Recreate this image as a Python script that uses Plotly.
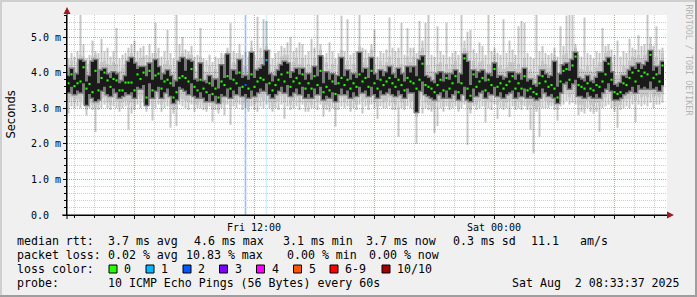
import plotly.graph_objects as go
import pandas as pd

# ---------------- data (ms), one value per 9-minute column ----------------
median_ms = [
    3.70,3.95,3.62,3.70,3.75,4.15,3.55,3.68,3.45,4.05, 3.50,3.85,4.00,3.78,3.60,3.82,3.78,3.50,3.50,3.72,
    3.72,3.72,3.50,3.95,3.82,4.00,3.30,4.05,3.50,3.92, 3.97,3.55,3.75,3.80,3.70,3.30,3.45,3.85,3.90,3.85,
    3.75,4.10,3.60,3.50,3.80,3.55,3.45,3.70,3.40,3.55, 3.30,3.75,3.65,3.90,3.55,3.80,3.70,4.00,3.60,3.65,
    3.55,3.95,3.60,3.75,3.85,3.80,4.35,3.70,3.50,3.65, 3.80,3.95,3.75,4.00,3.60,3.75,3.85,3.70,3.95,3.55,
    3.70,3.55,3.90,3.65,4.05,3.45,3.60,3.50,3.75,3.40, 3.70,3.85,3.65,3.80,3.55,3.70,3.60,3.95,3.75,3.85,
    3.60,4.05,3.70,3.55,3.80,3.65,3.75,3.85,3.70,3.60, 3.80,3.65,3.50,3.85,3.75,3.70,3.55,3.80,4.25,3.65,
    3.60,3.55,3.45,3.65,3.80,3.50,3.85,3.55,3.70,3.90, 3.45,3.70,4.40,3.55,3.35,3.95,3.60,3.75,3.85,3.50,
    3.80,3.65,4.10,3.60,3.70,3.55,3.65,3.75,3.90,3.55, 3.70,3.55,3.90,3.50,3.55,3.45,3.40,3.70,3.90,3.75,
    3.60,3.65,3.55,3.30,3.75,4.05,4.10,3.80,4.20,4.45, 3.65,3.60,3.55,3.70,3.55,3.50,3.65,3.60,3.75,3.95,
    4.25,3.80,3.45,3.40,3.45,3.70,3.65,3.85,4.00,3.75, 4.05,3.90,4.00,3.95,4.50,3.85,3.95,3.75,4.20,
]
dark_lo = [
    3.45,3.60,3.40,3.50,3.45,3.70,3.10,3.40,3.30,3.20, 3.25,3.50,3.60,3.40,3.35,3.55,3.45,3.30,3.35,3.45,
    3.40,3.45,3.30,3.60,3.55,3.65,3.10,3.70,3.30,3.50, 3.60,3.30,3.45,3.55,3.35,3.15,3.25,3.60,3.55,3.50,
    3.40,3.70,3.35,3.30,3.45,3.30,3.20,3.40,3.20,3.35, 3.15,3.40,3.35,3.55,3.30,3.50,3.40,3.60,3.35,3.40,
    3.30,3.50,3.35,3.45,3.55,3.50,3.70,3.40,3.30,3.40, 3.50,3.60,3.45,3.65,3.35,3.45,3.55,3.40,3.60,3.30,
    3.40,3.30,3.55,3.40,3.60,3.25,3.35,3.30,3.45,3.20, 3.40,3.55,3.40,3.50,3.30,3.45,3.35,3.60,3.45,3.50,
    3.35,3.60,3.40,3.30,3.50,3.40,3.45,3.55,3.40,3.35, 3.50,3.40,3.30,3.55,3.45,3.45,2.90,3.50,3.75,3.40,
    3.35,3.30,3.25,3.40,3.45,3.30,3.50,3.30,3.40,3.50, 3.25,3.40,3.60,3.25,3.20,3.55,3.35,3.45,3.50,3.30,
    3.45,3.40,3.60,3.35,3.45,3.30,3.40,3.45,3.50,3.30, 3.45,3.35,3.55,3.30,3.35,3.30,3.25,3.30,3.55,3.45,
    3.35,3.40,3.30,3.15,3.45,3.70,3.75,3.55,3.70,3.80, 3.35,3.35,3.30,3.45,3.35,3.30,3.40,3.30,3.45,3.55,
    3.70,3.50,3.25,3.25,3.30,3.40,3.45,3.50,3.60,3.45, 3.65,3.55,3.60,3.55,3.75,3.55,3.60,3.50,3.65,
]
dark_hi = [
    3.90,4.10,3.80,3.95,4.35,4.30,3.75,3.90,4.30,4.35, 3.70,4.05,4.10,3.95,3.85,4.00,3.95,3.70,3.75,3.90,
    4.30,4.40,4.25,4.10,4.15,4.15,3.90,4.25,3.80,4.35, 4.15,3.80,3.95,4.05,3.90,3.60,3.75,4.30,4.40,4.05,
    4.35,4.30,3.80,3.75,4.25,3.75,3.70,3.90,3.60,3.80, 3.55,4.20,3.85,4.50,3.80,4.05,3.95,4.35,3.85,3.90,
    3.80,4.55,3.85,4.05,4.10,4.20,4.60,3.95,3.75,3.90, 4.05,4.20,4.30,4.25,3.85,4.00,4.10,3.95,4.10,3.80,
    3.95,3.80,4.15,3.90,4.45,3.70,4.00,3.80,3.95,3.65, 3.90,4.40,3.90,4.05,3.80,3.95,3.85,4.55,4.00,4.10,
    3.85,4.40,3.95,3.80,4.05,3.90,4.00,4.15,3.95,3.85, 4.10,3.95,3.75,4.15,4.00,4.15,3.90,4.35,4.45,3.90,
    3.85,3.75,3.70,3.95,4.00,3.75,3.95,3.80,3.95,4.05, 3.70,3.95,4.50,4.30,3.65,4.05,3.85,4.00,4.05,3.75,
    3.95,3.90,4.25,3.85,3.90,3.80,3.85,4.00,4.00,3.80, 3.95,3.80,4.10,3.75,3.80,3.65,3.60,3.90,4.05,3.95,
    3.85,3.90,4.30,3.60,3.95,4.20,4.25,4.05,4.35,4.55, 3.85,3.80,3.75,3.90,3.75,3.70,3.85,4.00,4.00,4.30,
    4.40,4.00,3.65,3.60,3.70,3.90,3.85,4.05,4.15,4.10, 4.25,4.10,4.20,4.30,4.60,4.05,4.15,3.95,4.30,
]
core_lo = [
    3.15,3.30,3.15,3.25,3.20,3.35,2.95,3.15,3.10,3.00, 3.10,3.25,3.30,3.15,3.10,3.30,3.20,3.05,3.15,3.20,
    3.10,3.15,3.05,3.35,3.25,3.35,3.00,3.40,3.05,3.25, 3.30,3.10,3.20,3.25,3.05,2.95,3.00,3.30,3.25,3.20,
    3.15,3.35,3.10,3.10,3.20,3.10,3.00,3.20,2.95,3.10, 2.95,3.15,3.10,3.30,3.05,3.25,3.15,3.30,3.10,3.15,
    3.05,3.25,3.10,3.15,3.30,3.20,3.40,3.15,3.05,3.15, 3.20,3.35,3.15,3.35,3.10,3.20,3.30,3.15,3.35,3.05,
    3.15,3.10,3.25,3.15,3.35,3.00,3.10,3.05,3.20,2.95, 3.15,3.30,3.15,3.25,3.05,3.20,3.10,3.35,3.20,3.25,
    3.10,3.35,3.15,3.05,3.25,3.15,3.20,3.30,3.15,3.10, 3.25,3.15,3.05,3.30,3.20,3.20,2.75,3.25,3.45,3.15,
    3.10,3.05,3.00,3.15,3.20,3.05,3.25,3.05,3.15,3.25, 3.00,3.15,3.35,3.00,2.95,3.30,3.10,3.20,3.25,3.05,
    3.20,3.15,3.35,3.10,3.20,3.05,3.15,3.20,3.25,3.05, 3.20,3.10,3.30,3.05,3.10,3.05,3.00,3.05,3.30,3.20,
    3.10,3.15,3.10,2.95,3.20,3.40,3.45,3.30,3.40,3.45, 3.10,3.10,3.05,3.20,3.10,3.05,3.15,3.05,3.20,3.30,
    3.40,3.25,3.05,3.05,3.10,3.20,3.25,3.25,3.35,3.20, 3.40,3.30,3.35,3.30,3.45,3.30,3.35,3.30,3.40,
]
core_hi = [
    4.20,4.35,4.15,4.30,4.50,4.45,4.10,4.25,4.45,4.50, 4.15,4.30,4.35,4.25,4.20,4.30,4.25,4.05,4.15,4.25,
    4.45,4.55,4.40,4.35,4.40,4.45,4.20,4.45,4.10,4.55, 4.40,4.15,4.25,4.35,4.20,4.00,4.15,4.45,4.55,4.35,
    4.50,4.50,4.10,4.05,4.45,4.05,4.00,4.20,3.95,4.10, 3.90,4.40,4.15,4.60,4.15,4.30,4.25,4.55,4.15,4.20,
    4.10,4.70,4.15,4.35,4.40,4.45,4.75,4.25,4.05,4.20, 4.30,4.45,4.50,4.50,4.15,4.30,4.40,4.25,4.40,4.10,
    4.25,4.15,4.40,4.20,4.65,4.00,4.30,4.10,4.25,3.95, 4.20,4.65,4.20,4.35,4.10,4.25,4.15,4.75,4.30,4.40,
    4.15,4.65,4.25,4.10,4.35,4.20,4.30,4.45,4.25,4.15, 4.40,4.25,4.05,4.45,4.30,4.45,4.20,4.60,4.70,4.20,
    4.20,4.05,4.00,4.25,4.30,4.05,4.25,4.10,4.25,4.35, 4.00,4.25,4.70,4.60,4.00,4.35,4.15,4.30,4.35,4.05,
    4.25,4.20,4.50,4.15,4.20,4.10,4.15,4.30,4.30,4.10, 4.25,4.10,4.40,4.05,4.10,3.95,3.90,4.20,4.35,4.25,
    4.15,4.20,4.50,3.95,4.25,4.50,4.55,4.40,4.60,4.70, 4.15,4.10,4.05,4.20,4.05,4.00,4.15,4.30,4.30,4.55,
    4.60,4.30,3.95,3.95,4.00,4.20,4.15,4.35,4.45,4.40, 4.50,4.40,4.50,4.55,4.80,4.35,4.45,4.25,4.55,
]
smoke_lo = [
    2.85,3.05,3.00,3.05,3.00,3.10,2.80,3.00,2.95,2.33, 2.95,3.00,3.10,3.00,2.95,3.05,3.00,2.90,3.00,3.05,
    2.40,2.85,2.95,3.10,3.00,3.15,2.90,3.10,2.65,3.00, 3.10,2.90,3.00,3.05,2.45,2.85,2.50,3.10,3.05,3.00,
    2.95,3.10,2.90,3.00,3.00,2.95,2.90,3.05,2.62,2.95, 2.85,3.00,2.80,3.10,2.53,3.05,3.00,3.10,2.95,3.00,
    2.90,3.05,2.95,2.90,3.05,3.00,3.10,3.00,2.90,3.00, 2.95,3.10,2.70,3.05,2.95,3.00,3.05,2.95,3.10,2.90,
    2.90,3.00,3.00,2.95,3.10,2.76,2.95,2.90,3.00,2.48, 2.95,3.05,3.00,3.05,2.90,3.00,2.95,3.10,2.85,3.05,
    2.95,3.10,3.00,2.70,3.05,3.00,3.00,3.05,2.95,2.95, 2.20,3.00,2.95,3.05,3.00,2.95,2.00,3.05,2.85,3.00,
    2.95,2.90,2.30,2.50,3.00,2.90,3.05,2.95,3.00,3.05, 2.90,3.00,3.10,1.97,2.85,3.05,2.95,3.00,3.05,2.60,
    3.00,2.95,3.10,2.70,3.00,2.95,3.00,2.75,3.05,2.95, 3.00,2.95,3.05,2.95,2.40,1.73,2.90,2.20,3.00,3.00,
    3.00,3.05,2.95,2.65,3.05,3.10,3.20,3.10,3.15,3.10, 2.80,2.90,2.85,3.00,2.90,2.85,2.90,2.34,3.00,3.05,
    3.10,3.00,2.90,2.45,2.95,3.00,3.05,3.00,3.10,2.60, 3.10,3.05,3.10,3.05,3.15,3.00,3.10,3.10,3.15,
]
smoke_hi = [
    4.40,4.55,4.45,4.60,5.62,4.80,4.40,4.50,4.90,4.60, 4.55,4.95,4.60,4.70,4.45,4.60,5.25,4.40,4.50,4.55,
    4.70,4.80,4.90,4.60,4.70,4.75,4.50,4.80,4.55,5.40, 4.70,4.45,4.60,5.20,4.55,4.40,5.62,4.80,5.00,4.65,
    4.60,4.75,4.45,4.50,5.25,4.40,4.35,4.50,4.30,4.45, 4.40,4.55,4.50,4.70,5.39,4.60,4.55,4.80,4.50,4.60,
    4.45,4.90,4.50,5.57,4.70,5.50,5.45,4.65,4.40,4.55, 4.60,4.75,4.70,4.85,5.00,4.60,4.70,4.85,4.80,4.50,
    4.60,4.95,4.70,5.62,4.80,4.45,4.55,4.85,4.60,4.40, 4.55,5.60,4.60,5.50,4.50,4.55,4.60,5.62,4.70,4.65,
    4.55,4.80,5.20,4.45,4.60,4.55,4.65,5.55,4.70,4.60, 4.70,5.40,4.50,5.25,4.70,4.70,4.55,5.45,4.90,5.40,
    5.62,4.50,4.45,5.30,4.60,4.50,5.40,4.45,4.55,4.60, 4.50,5.62,4.90,5.15,5.20,4.65,4.55,4.85,4.75,4.50,
    5.62,4.60,4.70,4.55,4.50,5.50,4.55,4.90,4.65,4.50, 5.30,5.45,5.40,4.55,4.45,4.40,5.62,4.60,4.75,4.55,
    4.50,4.55,4.70,4.45,5.30,4.75,5.60,5.62,5.62,4.80, 4.50,4.45,5.55,4.55,4.50,4.40,4.60,4.55,5.25,4.75,
    4.80,4.65,4.50,4.90,4.45,4.60,4.55,4.95,4.70,4.65, 5.05,4.75,4.80,5.62,5.00,4.75,5.30,4.65,4.70,
]
loss_columns = [59, 66]
loss_counts = [2, 1]

loss_labels = ["0", "1", "2", "3", "4", "5", "6-9", "10/10"]
loss_colors = ["#26ff00", "#00b8ff", "#0059ff", "#7e00ff", "#ff00ff", "#ff5500", "#ff0000", "#a10000"]
y_tick_vals = [0, 1, 2, 3, 4, 5]
y_tick_text = ["0.0\u00a0\u00a0", "1.0 m", "2.0 m", "3.0 m", "4.0 m", "5.0 m"]
x_tick_vals = ["2025-08-01 06:00", "2025-08-01 12:00", "2025-08-01 18:00", "2025-08-02 00:00", "2025-08-02 06:00"]
x_tick_text = ["", "Fri 12:00", "", "Sat 00:00", ""]

n = len(median_ms)
assert all(len(a) == n for a in (dark_lo, dark_hi, core_lo, core_hi, smoke_lo, smoke_hi))

t0 = pd.Timestamp("2025-08-01 02:39:00")
step = pd.Timedelta(minutes=9)
edges = [t0 + i * step for i in range(n + 1)]
centers = [t0 + i * step + step / 2 for i in range(n)]


def stepped(v):
    return list(v) + [v[-1]]


MONO = "DejaVu Sans Mono"
LIGHT = "rgba(0,0,0,0.22)"
fig = go.Figure()

# outer ping spikes (beyond the core band)
sx, sy = [], []
for i in range(n):
    sx += [centers[i], centers[i], None, centers[i], centers[i], None]
    sy += [smoke_lo[i], core_lo[i], None, core_hi[i], smoke_hi[i], None]
fig.add_trace(go.Scatter(x=sx, y=sy, mode="lines", line=dict(width=2, color=LIGHT),
                         connectgaps=False, hoverinfo="skip", showlegend=False))

# light core smoke
fig.add_trace(go.Scatter(x=edges, y=stepped(core_lo), mode="lines",
                         line=dict(width=0, shape="hv"), hoverinfo="skip", showlegend=False))
fig.add_trace(go.Scatter(x=edges, y=stepped(core_hi), mode="lines",
                         line=dict(width=0, shape="hv"), fill="tonexty",
                         fillcolor=LIGHT, hoverinfo="skip", showlegend=False))

# grey fringe around the dark band
fig.add_trace(go.Scatter(x=edges, y=stepped(dark_lo), mode="lines",
                         line=dict(width=3, shape="hv", color="#7a7a7a"),
                         hoverinfo="skip", showlegend=False))
fig.add_trace(go.Scatter(x=edges, y=stepped(dark_hi), mode="lines",
                         line=dict(width=3, shape="hv", color="#7a7a7a"), fill="tonexty",
                         fillcolor="#7a7a7a", hoverinfo="skip", showlegend=False))
# dark smoke near the median
fig.add_trace(go.Scatter(x=edges, y=stepped(dark_lo), mode="lines",
                         line=dict(width=0, shape="hv"), hoverinfo="skip", showlegend=False))
fig.add_trace(go.Scatter(x=edges, y=stepped(dark_hi), mode="lines",
                         line=dict(width=0, shape="hv"), fill="tonexty",
                         fillcolor="#1a1a1a", hoverinfo="skip", showlegend=False))

# median coloured by loss
med_colors = [loss_colors[0]] * n
for c, k in zip(loss_columns, loss_counts):
    med_colors[c] = loss_colors[k]
fig.add_trace(go.Scatter(x=centers, y=median_ms, mode="markers",
                         marker=dict(symbol="square", size=2.1, color=med_colors, line=dict(width=0)),
                         hoverinfo="skip", showlegend=False))

# loss background lines
alpha = {1: 0.18, 2: 0.4}
for c, k in zip(loss_columns, loss_counts):
    col = loss_colors[k].lstrip("#")
    r, g, b = int(col[0:2], 16), int(col[2:4], 16), int(col[4:6], 16)
    fig.add_shape(type="line", xref="x", yref="paper", x0=centers[c], x1=centers[c], y0=0, y1=1,
                  line=dict(color=f"rgba({r},{g},{b},{alpha.get(k, 0.4)})", width=1.6), layer="below")

# ---------------- layout ----------------
L, R, T, B = 67, 667, 15, 215


def fx(p):
    return (p - L) / (R - L)


def fy(p):
    return (B - p) / (B - T)


fig.update_layout(
    width=697, height=297,
    margin=dict(l=L, r=697 - R, t=T, b=297 - B, pad=0),
    paper_bgcolor="#f0f0f0", plot_bgcolor="#ffffff",
    showlegend=False,
    xaxis=dict(
        type="date",
        range=["2025-08-01 02:39:00", "2025-08-02 08:39:00"],
        tickmode="array", tickvals=x_tick_vals, ticktext=x_tick_text,
        tickfont=dict(family=MONO, size=10, color="#000"),
        ticks="outside", ticklen=3, tickcolor="#000",
        showgrid=True, gridcolor="#e59a9a", griddash="1px,1px", gridwidth=1,
        minor=dict(dtick=3600000, tick0="2025-08-01 00:00", showgrid=True,
                   gridcolor="#cfcfcf", griddash="1px,1px", ticks="outside", ticklen=2, tickcolor="#000"),
        showline=True, linecolor="#000", linewidth=1, zeroline=False, fixedrange=True,
    ),
    yaxis=dict(
        range=[0, 200 / 35.6],
        tickmode="array", tickvals=y_tick_vals, ticktext=y_tick_text,
        tickfont=dict(family=MONO, size=10, color="#000"),
        ticks="outside", ticklen=3, tickcolor="#000",
        showgrid=True, gridcolor="#e59a9a", griddash="1px,1px", gridwidth=1,
        minor=dict(dtick=0.2, tick0=0, showgrid=True, gridcolor="#cfcfcf", griddash="1px,1px",
                   ticks="outside", ticklen=2, tickcolor="#000"),
        showline=True, linecolor="#000", linewidth=1, zeroline=False, fixedrange=True,
    ),
)


def txt(s, x, y, anchor="left", size=11.6, color="#000", family=MONO, angle=0):
    fig.add_annotation(text=s, x=fx(x), y=fy(y), xref="paper", yref="paper",
                       xanchor=anchor, yanchor="middle", showarrow=False, borderpad=0,
                       font=dict(family=family, size=size, color=color), textangle=angle)


# axis extensions and arrows
fig.add_shape(type="line", xref="paper", yref="paper", x0=fx(62), x1=fx(668), y0=fy(215), y1=fy(215),
              line=dict(color="#000", width=1))
fig.add_shape(type="line", xref="paper", yref="paper", x0=fx(67), x1=fx(67), y0=fy(219), y1=fy(12),
              line=dict(color="#000", width=1))
fig.add_shape(type="path", xref="paper", yref="paper",
              path=f"M {fx(667)} {fy(211.5)} L {fx(674)} {fy(215)} L {fx(667)} {fy(218.5)} Z",
              fillcolor="#9b1c1c", line=dict(width=0))
fig.add_shape(type="path", xref="paper", yref="paper",
              path=f"M {fx(63.5)} {fy(14)} L {fx(67)} {fy(7)} L {fx(70.5)} {fy(14)} Z",
              fillcolor="#9b1c1c", line=dict(width=0))

# frame
fig.add_shape(type="rect", xref="paper", yref="paper", x0=fx(0), x1=fx(697), y0=fy(0), y1=fy(2),
              fillcolor="#cfcfcf", line=dict(width=0))
fig.add_shape(type="rect", xref="paper", yref="paper", x0=fx(0), x1=fx(2), y0=fy(0), y1=fy(297),
              fillcolor="#cfcfcf", line=dict(width=0))
fig.add_shape(type="rect", xref="paper", yref="paper", x0=fx(0), x1=fx(697), y0=fy(295), y1=fy(297),
              fillcolor="#9e9e9e", line=dict(width=0))
fig.add_shape(type="rect", xref="paper", yref="paper", x0=fx(695), x1=fx(697), y0=fy(0), y1=fy(297),
              fillcolor="#9e9e9e", line=dict(width=0))

# y title and watermark
txt("Seconds", 10.5, 115, anchor="center", size=11.5, family="DejaVu Sans", angle=-90)
txt("RRDTOOL / TOBI OETIKER", 688.5, 60, anchor="center", size=8.4, color="#b4b4b4", angle=90)

# legend lines
y1, y2, y3, y4 = 241, 255, 269, 283
for s, x in [("median rtt:", 16), ("3.7 ms avg", 106.5), ("4.6 ms max", 192.5), ("3.1 ms min", 282),
             ("3.7 ms now", 365), ("0.3 ms sd", 451.5), ("11.1", 530), ("am/s", 579)]:
    txt(s, x, y1)
for s, x in [("packet loss:", 16), ("0.02 % avg", 106.5), ("10.83 % max", 184.5), ("0.00 % min", 285.5),
             ("0.00 % now", 368)]:
    txt(s, x, y2)
txt("loss color:", 16, y3)
box_x = [109, 146, 183, 219.5, 256.5, 293.5, 330, 382]
for bx, lab, colr in zip(box_x, loss_labels, loss_colors):
    fig.add_shape(type="rect", xref="paper", yref="paper", x0=fx(bx), x1=fx(bx + 8),
                  y0=fy(y3 - 4), y1=fy(y3 + 4), fillcolor=colr, line=dict(color="#000", width=1))
    txt(lab, bx + 14, y3)
txt("probe:", 16, y4)
txt("10 ICMP Echo Pings (56 Bytes) every 60s", 106.5, y4)
txt("Sat Aug\u00a0\u00a02 08:33:37 2025", 680.5, y4, anchor="right")

fig.write_html("out.html")
